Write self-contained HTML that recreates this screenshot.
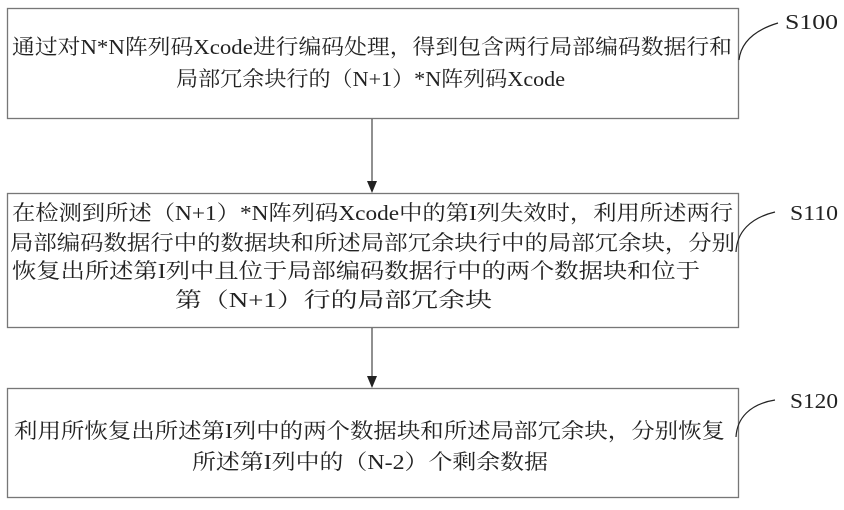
<!DOCTYPE html>
<html><head><meta charset="utf-8"><style>
html,body{margin:0;padding:0;background:#fff;}
svg{display:block;}
text{font-family:"Liberation Serif","Noto Serif CJK SC","Noto Sans CJK SC",serif;font-size:21px;fill:#222;dominant-baseline:central;}
</style></head><body>
<svg width="844" height="510" viewBox="0 0 844 510" xmlns="http://www.w3.org/2000/svg">
<g fill="none" stroke="#777" stroke-width="1.3">
<rect x="7.5" y="8.5" width="731" height="110"/>
<rect x="7.5" y="193.5" width="731" height="134"/>
<rect x="7.5" y="388.5" width="731" height="109"/>
</g>
<g stroke="#222" stroke-width="1">
<line x1="372" y1="119" x2="372" y2="182"/>
<line x1="372" y1="328" x2="372" y2="377"/>
</g>
<g fill="#222">
<path d="M367,181 L377,181 L372,193 Z"/>
<path d="M367,376 L377,376 L372,388 Z"/>
</g>
<g fill="none" stroke="#222" stroke-width="1.2">
<path d="M739,60 C741,42 755,30 778,23"/>
<path d="M736,252 C737,232 750,218 775,212"/>
<path d="M736,437 C737,418 750,404 775,400"/>
</g>
<text x="785" y="22" textLength="53" lengthAdjust="spacingAndGlyphs">S100</text>
<text x="790" y="213" textLength="48" lengthAdjust="spacingAndGlyphs">S110</text>
<text x="790" y="401" textLength="48" lengthAdjust="spacingAndGlyphs">S120</text>
<text x="12" y="47" textLength="720" lengthAdjust="spacingAndGlyphs">通过对N*N阵列码Xcode进行编码处理，得到包含两行局部编码数据行和</text>
<text x="176" y="79" textLength="389" lengthAdjust="spacingAndGlyphs">局部冗余块行的（N+1）*N阵列码Xcode</text>
<text x="12" y="213" textLength="721" lengthAdjust="spacingAndGlyphs">在检测到所述（N+1）*N阵列码Xcode中的第I列失效时，利用所述两行</text>
<text x="10" y="243" textLength="725" lengthAdjust="spacingAndGlyphs">局部编码数据行中的数据块和所述局部冗余块行中的局部冗余块，分别</text>
<text x="12" y="271" textLength="688" lengthAdjust="spacingAndGlyphs">恢复出所述第I列中且位于局部编码数据行中的两个数据块和位于</text>
<text x="175" y="300" textLength="317" lengthAdjust="spacingAndGlyphs">第（N+1）行的局部冗余块</text>
<text x="14" y="431" textLength="711" lengthAdjust="spacingAndGlyphs">利用所恢复出所述第I列中的两个数据块和所述局部冗余块，分别恢复</text>
<text x="192" y="462" textLength="356" lengthAdjust="spacingAndGlyphs">所述第I列中的（N-2）个剩余数据</text>
</svg>
</body></html>
